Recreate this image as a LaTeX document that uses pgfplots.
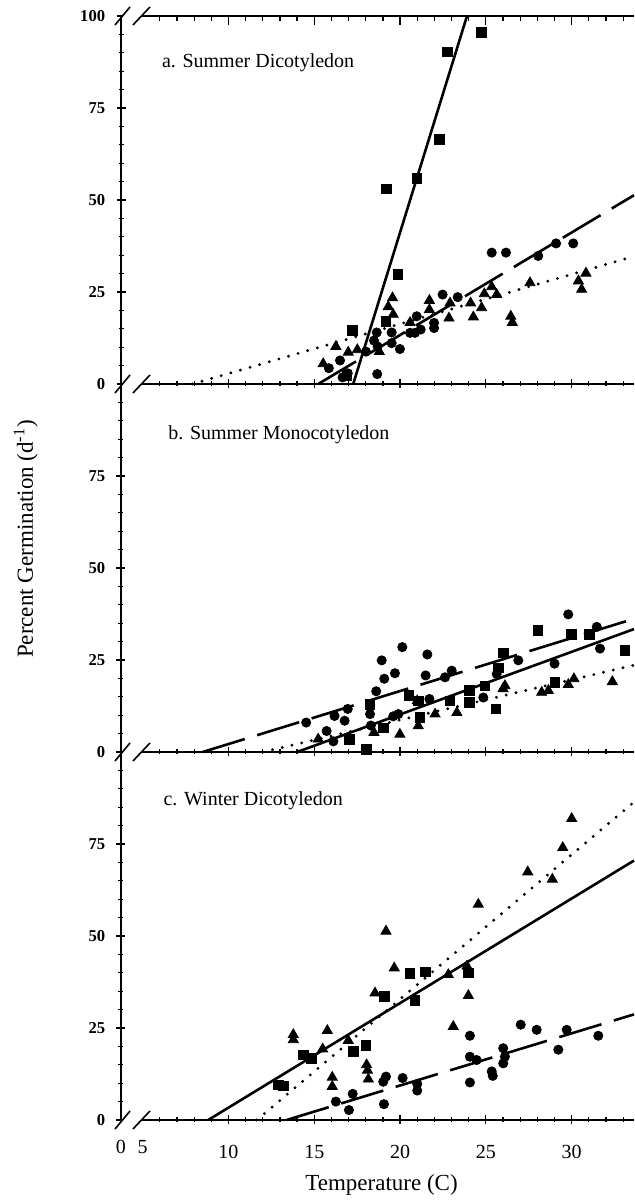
\documentclass[border=0pt]{standalone}
\usepackage{fontspec}
\setmainfont{Liberation Serif}
\usepackage{pgfplots}
\pgfplotsset{compat=1.18}
\pgfplotsset{
  panel/.style={
    scale only axis, width=256.5pt, height=184pt,
    xmin=3.74, xmax=33.63, ymin=0, ymax=100, clip=false,
    axis x line*=bottom, axis y line*=left,
    axis line style={-, line width=0.8pt},
    xtick={10,15,20,25,30},
    minor xtick={6,7,8,9,11,12,13,14,16,17,18,19,21,22,23,24,26,27,28,29,31,32,33},
    minor ytick={5,10,15,20,30,35,40,45,55,60,65,70,80,85,90,95},
    tick align=center, major tick length=4.5pt, minor tick length=2.5pt,
    tick style={line width=0.6pt, black},
    yticklabel style={font=\fontsize{8.3}{9}\selectfont\bfseries, anchor=east, inner sep=0pt, xshift=-5.5pt},
    xticklabel style={font=\fontsize{10}{11}\selectfont, anchor=center, inner sep=0pt, yshift=-13.7pt},
  },
  sq/.style={only marks, mark=square*, mark size=2.4pt, black},
  ci/.style={only marks, mark=*, mark size=2.3pt, black},
  tr/.style={only marks, mark=triangle*, mark size=2.9pt, black},
  solidl/.style={black, line width=1.3pt, no marks},
  dashl/.style={black, line width=1.3pt, no marks, dash pattern=on 22pt off 6.5pt},
  dotl/.style={black, line width=1.6pt, no marks, dash pattern=on 0pt off 5pt, line cap=round},
}
\begin{document}
\begin{tikzpicture}
\useasboundingbox (0,0) rectangle (317pt,600pt);
% ---------------- panel c ----------------
\begin{axis}[panel, at={(60.5pt,40pt)}, anchor=south west,
  ytick={0,25,50,75}, yticklabels={0,25,50,75},
  xticklabels={10,15,20,25,30},
  extra x ticks={3.74,5}, extra x tick labels={0,5},
  extra x tick style={major tick length=0pt}]
\addplot[sq] coordinates {(20.58,39.8) (21.49,40.2) (23.98,40.0) (20.87,32.5) (19.08,33.6) (18.0,20.2) (17.27,18.6) (14.85,16.8) (14.36,17.7) (12.90,9.5) (13.19,9.3)};
\addplot[tr] coordinates {(30.0,81.9) (29.48,74.0) (27.44,67.4) (28.87,65.4) (24.56,58.6) (19.18,51.3) (19.66,41.3) (18.54,34.5) (22.81,39.5) (23.98,33.8) (23.1,25.4) (15.76,24.3) (16.98,21.6) (15.49,19.3) (18.05,15.0) (18.1,13.5) (18.15,11.1) (16.05,11.6) (16.05,9.1) (13.78,23.2) (13.78,21.8) (23.9,41.8)};
\addplot[ci] coordinates {(27.03,25.9) (27.96,24.5) (29.71,24.5) (31.55,22.9) (29.22,19.1) (26.01,19.5) (26.11,17.2) (26.01,15.4) (25.34,13.2) (25.4,12.0) (24.07,22.9) (24.07,17.2) (24.46,16.3) (24.07,10.2) (20.15,11.4) (21.0,9.8) (21.0,8.0) (19.18,11.8) (19.02,10.4) (19.06,4.3) (17.24,7.1) (16.26,5.0) (17.02,2.7)};
\addplot[solidl] coordinates {(8.82,0) (33.63,70.5)};
\addplot[dotl] coordinates {(11.65,0) (33.63,86.4)};
\addplot[dashl] coordinates {(13.39,0) (33.63,28.7)};
\end{axis}
% ---------------- panel b ----------------
\begin{axis}[panel, at={(60.5pt,224pt)}, anchor=south west,
  ytick={0,25,50,75}, yticklabels={0,25,50,75}, xticklabel=\empty]
\addplot[sq] coordinates {(28.02,33.1) (30.0,32.0) (31.03,32.0) (33.11,27.6) (26.01,26.9) (25.72,22.9) (29.03,18.9) (25.58,11.7) (24.94,18.0) (24.03,16.7) (24.03,13.5) (22.91,13.9) (20.52,15.3) (21.06,13.9) (21.16,9.4) (19.02,6.6) (18.05,0.7) (17.04,3.5) (18.25,13.0)};
\addplot[ci] coordinates {(29.8,37.4) (31.46,34.0) (31.65,28.1) (29.0,24.0) (26.89,24.9) (25.63,21.2) (24.85,14.8) (20.13,28.5) (18.93,24.9) (21.59,26.5) (19.70,21.4) (19.08,19.9) (21.49,20.8) (22.62,20.3) (23.01,22.1) (18.61,16.5) (21.71,14.4) (19.90,10.3) (18.25,10.3) (16.95,11.7) (16.18,9.8) (16.77,8.5) (14.53,8.0) (15.72,5.7) (16.11,2.9) (19.6,9.7) (18.3,7.2)};
\addplot[tr] coordinates {(30.13,19.9) (32.37,19.1) (29.8,18.3) (28.25,16.2) (28.64,16.7) (26.11,18.0) (26.0,17.2) (23.31,10.7) (22.04,10.3) (21.06,7.1) (21.0,13.9) (19.99,4.8) (18.48,5.3) (15.23,3.5)};
\addplot[solidl] coordinates {(14.0,0) (33.63,33.4)};
\addplot[dashl] coordinates {(8.5,0) (33.63,36.2)};
\addplot[dotl] coordinates {(12.0,0) (33.63,23.6)};
\end{axis}
% ---------------- panel a ----------------
\begin{axis}[panel, at={(60.5pt,408pt)}, anchor=south west,
  ytick={0,25,50,75,100}, yticklabels={0,25,50,75,100}, xticklabel=\empty]
\addplot[sq] coordinates {(24.75,95.6) (22.77,90.2) (22.29,66.4) (20.98,55.9) (19.22,53.0) (19.88,29.7) (19.18,17.0) (17.21,14.5) (16.9,2.3)};
\addplot[ci] coordinates {(25.34,35.7) (26.17,35.7) (28.05,34.8) (29.09,38.2) (30.09,38.2) (22.48,24.3) (23.36,23.6) (21.98,16.6) (21.98,15.2) (20.97,18.4) (21.2,14.8) (20.58,13.9) (20.87,13.9) (19.51,14.0) (18.64,14.0) (19.51,11.1) (19.99,9.5) (18.48,11.8) (18.69,10.2) (18.01,8.8) (18.67,2.7) (16.5,6.4) (15.85,4.3) (16.65,1.8) (16.95,2.9)};
\addplot[tr] coordinates {(30.83,30.1) (30.39,28.0) (30.58,25.7) (27.57,27.5) (25.34,26.4) (25.63,24.3) (24.91,24.5) (24.75,20.7) (24.27,18.2) (24.11,22.0) (22.85,17.9) (26.45,18.4) (26.54,16.7) (21.71,22.7) (21.71,20.2) (22.91,22.0) (19.56,23.4) (19.31,21.0) (19.60,18.9) (20.58,16.7) (18.79,8.8) (17.51,9.3) (16.98,8.6) (16.26,10.2) (15.52,5.5)};
\addplot[solidl] coordinates {(17.27,0) (23.9,100)};
\addplot[dashl] coordinates {(15.23,0) (33.63,51.3)};
\addplot[dotl] coordinates {(7.9,0) (33.63,34.7)};
\end{axis}
% top axis line of panel a
\begin{axis}[scale only axis, width=256.5pt, height=184pt, at={(60.5pt,408pt)}, anchor=south west,
  xmin=3.74, xmax=33.63, ymin=0, ymax=100,
  axis x line*=top, axis y line=none, ytick=\empty,
  axis line style={-, line width=0.8pt},
  xtick={10,15,20,25,30},
  minor xtick={6,7,8,9,11,12,13,14,16,17,18,19,21,22,23,24,26,27,28,29,31,32,33},
  xticklabel=\empty, tick align=inside, major tick length=4.5pt, minor tick length=2.5pt,
  tick style={line width=0.6pt, black}]
\addplot[draw=none] coordinates {(10,50)};
\end{axis}
% axis breaks
\foreach \yy in {40,224,408,592} {
  \fill[white] (61.4pt,\yy pt-1.5pt) rectangle (70.5pt,\yy pt+1.5pt);
  \draw[line width=0.8pt] (57.5pt,\yy pt-4.5pt) -- (65pt,\yy pt+4.5pt);
  \draw[line width=0.8pt] (66.5pt,\yy pt-4.5pt) -- (75pt,\yy pt+4.5pt);
}
% titles
\node[anchor=base west, inner sep=0pt, font=\fontsize{10}{12}\selectfont] at (80.8pt,566pt) {a. Summer Dicotyledon};
\node[anchor=base west, inner sep=0pt, font=\fontsize{10}{12}\selectfont] at (84pt,380pt) {b. Summer Monocotyledon};
\node[anchor=base west, inner sep=0pt, font=\fontsize{10}{12}\selectfont] at (81.6pt,197.2pt) {c. Winter Dicotyledon};
% axis labels
\node[anchor=base, inner sep=0pt, font=\fontsize{11.5}{13}\selectfont] at (190.75pt,5pt) {Temperature (C)};
\node[anchor=base, inner sep=0pt, rotate=90, font=\fontsize{11.5}{13}\selectfont] at (16.5pt,330.5pt) {Percent Germination (d\textsuperscript{-1})};
\end{tikzpicture}
\end{document}
